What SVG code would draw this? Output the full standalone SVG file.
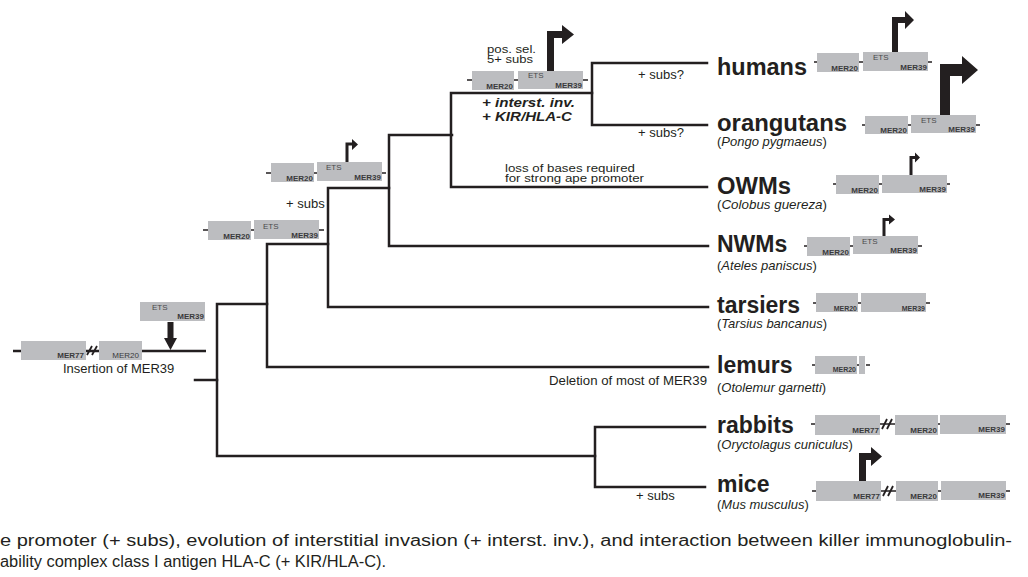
<svg xmlns="http://www.w3.org/2000/svg" width="1028" height="577" viewBox="0 0 1028 577">
<style>
text{font-family:"Liberation Sans",Arial,Helvetica,sans-serif;fill:#231f20}
.tree{fill:none;stroke:#231f20;stroke-width:2.5;stroke-linecap:square}
.tk{stroke:#231f20;stroke-width:1.6;fill:none}
.blk{fill:#bcbdc0}
.m{font-size:8px;font-weight:bold;fill:#3a3a3c;text-anchor:end}
.ms{font-size:7px;font-weight:bold;fill:#3a3a3c;text-anchor:end}
.mn{font-size:8px;fill:#3a3a3c;text-anchor:end}
.ets{font-size:8px;fill:#4a4a4c}
.sp{font-size:23px;font-weight:bold}
.sub{font-size:13px}
.ann{font-size:13px}
.sm{font-size:11.5px}
.bi{font-size:13px;font-weight:bold;font-style:italic}
.arr{fill:#231f20}
.hash{stroke:#231f20;stroke-width:1.8;fill:none}
.cap{font-size:16px;fill:#231f20}
</style>

<g id="connectors">
<path class="tree" d="M195,380 H217"/>
<path class="tree" d="M267,304 H217 V456 H595"/>
<path class="tree" d="M705,427 H595 V487 H705"/>
<path class="tree" d="M328,244 H267 V367 H708"/>
<path class="tree" d="M389,188 H328 V307 H708"/>
<path class="tree" d="M452,135 H389 V246 H708"/>
<path class="tree" d="M592,93 H451 V187 H707"/>
<path class="tree" d="M707,63 H592 V125 H707"/>
</g>

<g id="ancestor">
<path d="M13,351 H206" stroke="#231f20" stroke-width="2.5"/>
<rect class="blk" x="21" y="341" width="65" height="19"/>
<text class="m" x="84" y="358">MER77</text>
<path class="hash" d="M87,355 L92,346 M92,355 L97,346"/>
<rect class="blk" x="99" y="341" width="43" height="19"/>
<text class="mn" x="139" y="358">MER20</text>
<rect class="blk" x="140" y="302" width="65" height="19"/>
<text class="ets" x="152" y="310">ETS</text>
<text class="m" x="204" y="319">MER39</text>
<path class="arr" d="M167.5,322 H173.5 V338 H177 L170.5,350 L164,338 H167.5 Z"/>
<text class="ann" x="63" y="373">Insertion of MER39</text>
</g>

<g id="gene-stem">
<path class="tk" d="M203,230 H208 M251,230 H254 M319,230 H324"/>
<rect class="blk" x="208" y="221" width="43" height="19"/>
<text class="m" x="250" y="238.5">MER20</text>
<rect class="blk" x="254" y="220" width="65" height="19"/>
<text class="ets" x="263" y="228.5">ETS</text>
<text class="m" x="318" y="237.5">MER39</text>
<text class="ann" x="286" y="208">+ subs</text>
</g>

<g id="gene-anthropoid">
<path class="tk" d="M266,173 H271 M314,173 H317 M382,173 H386"/>
<rect class="blk" x="271" y="163" width="43" height="19"/>
<text class="m" x="313" y="180.5">MER20</text>
<rect class="blk" x="317" y="162" width="65" height="19"/>
<text class="ets" x="326" y="170">ETS</text>
<text class="m" x="381" y="179.5">MER39</text>
<path class="arr" d="M345.5,162 V142.5 H352 V139 L358,144.5 L352,150 V145.5 H348.5 V162 Z"/>
</g>

<g id="gene-ape">
<path class="tk" d="M467,80 H472 M514,80 H518 M583,80 H588"/>
<rect class="blk" x="472" y="71" width="42" height="19"/>
<text class="m" x="513" y="88.5">MER20</text>
<rect class="blk" x="518" y="71" width="65" height="18"/>
<text class="ets" x="528" y="78">ETS</text>
<text class="m" x="582" y="87.5">MER39</text>
<path class="arr" d="M547,71 V31 H562 V25 L574,34.5 L562,44 V38 H554 V71 Z"/>
<text class="sm" x="487" y="53" textLength="49" lengthAdjust="spacingAndGlyphs">pos. sel.</text>
<text class="sm" x="487" y="63" textLength="46" lengthAdjust="spacingAndGlyphs">5+ subs</text>
<text class="bi" x="482" y="107" textLength="93" lengthAdjust="spacingAndGlyphs">+ interst. inv.</text>
<text class="bi" x="482" y="121" textLength="90" lengthAdjust="spacingAndGlyphs">+ KIR/HLA-C</text>
</g>

<g id="annotations">
<text class="ann" x="638" y="79">+ subs?</text>
<text class="ann" x="638" y="137">+ subs?</text>
<text class="sm" x="505" y="172" textLength="130" lengthAdjust="spacingAndGlyphs">loss of bases required</text>
<text class="sm" x="505" y="182" textLength="139" lengthAdjust="spacingAndGlyphs">for strong ape promoter</text>
<text class="ann" x="549" y="385" textLength="158" lengthAdjust="spacingAndGlyphs">Deletion of most of MER39</text>
<text class="ann" x="636" y="500">+ subs</text>
</g>

<g id="humans">
<text class="sp" x="717" y="75" textLength="90" lengthAdjust="spacingAndGlyphs">humans</text>
<path class="tk" d="M814,62 H817 M859,62 H863 M928,62 H932"/>
<rect class="blk" x="817" y="53" width="42" height="19"/>
<text class="m" x="858" y="70.5">MER20</text>
<rect class="blk" x="863" y="52" width="65" height="19"/>
<text class="ets" x="873" y="60">ETS</text>
<text class="m" x="927" y="69.5">MER39</text>
<path class="arr" d="M892,52 V17 H905 V11 L914,20 L905,29 V23 H898 V52 Z"/>
</g>

<g id="orangutans">
<text class="sp" x="717" y="131" textLength="130" lengthAdjust="spacingAndGlyphs">orangutans</text>
<text class="sub" x="717" y="146">(<tspan font-style="italic">Pongo pygmaeus</tspan>)</text>
<path class="tk" d="M862,125 H865 M908,125 H911 M976,125 H980"/>
<rect class="blk" x="865" y="116" width="43" height="18"/>
<text class="m" x="907" y="132.5">MER20</text>
<rect class="blk" x="911" y="115" width="65" height="18"/>
<text class="ets" x="921" y="123">ETS</text>
<text class="m" x="975" y="131.5">MER39</text>
<path class="arr" d="M940,115 V64 H962 V56 L978,70 L962,84 V76 H950 V115 Z"/>
</g>

<g id="owms">
<text class="sp" x="717" y="194" textLength="74" lengthAdjust="spacingAndGlyphs">OWMs</text>
<text class="sub" x="717" y="209" textLength="110" lengthAdjust="spacingAndGlyphs">(<tspan font-style="italic">Colobus guereza</tspan>)</text>
<path class="tk" d="M833,184 H836 M879,184 H882 M947,184 H950"/>
<rect class="blk" x="836" y="175" width="43" height="19"/>
<text class="m" x="878" y="192.5">MER20</text>
<rect class="blk" x="882" y="175" width="65" height="18"/>
<text class="m" x="946" y="191.5">MER39</text>
<path class="arr" d="M909.5,175 V156 H915 V152.5 L920,157.5 L915,162.5 V159 H912.5 V175 Z"/>
</g>

<g id="nwms">
<text class="sp" x="717" y="252">NWMs</text>
<text class="sub" x="717" y="270">(<tspan font-style="italic">Ateles paniscus</tspan>)</text>
<path class="tk" d="M804,246 H807 M850,246 H853 M918,246 H922"/>
<rect class="blk" x="807" y="237" width="43" height="19"/>
<text class="m" x="849" y="254.5">MER20</text>
<rect class="blk" x="853" y="236" width="65" height="18"/>
<text class="ets" x="862" y="244">ETS</text>
<text class="m" x="917" y="252.5">MER39</text>
<path class="arr" d="M882.5,236 V218 H889 V214.5 L895,219.5 L889,224.5 V221 H885.5 V236 Z"/>
</g>

<g id="tarsiers">
<text class="sp" x="717" y="313">tarsiers</text>
<text class="sub" x="717" y="328">(<tspan font-style="italic">Tarsius bancanus</tspan>)</text>
<path class="tk" d="M813,303 H816 M858,303 H861 M926,303 H930"/>
<rect class="blk" x="816" y="293" width="42" height="19"/>
<text class="ms" x="857" y="310.5">MER20</text>
<rect class="blk" x="861" y="293" width="65" height="19"/>
<text class="ms" x="925" y="310.5">MER39</text>
</g>

<g id="lemurs">
<text class="sp" x="717" y="373">lemurs</text>
<text class="sub" x="717" y="392">(<tspan font-style="italic">Otolemur garnetti</tspan>)</text>
<path class="tk" d="M812,365 H815 M857,365 H859 M866,365 H870"/>
<rect class="blk" x="815" y="356" width="42" height="18"/>
<text class="ms" x="856" y="372">MER20</text>
<rect class="blk" x="859" y="356" width="6" height="18"/>
</g>

<g id="rabbits">
<text class="sp" x="717" y="433">rabbits</text>
<text class="sub" x="717" y="449">(<tspan font-style="italic">Oryctolagus cuniculus</tspan>)</text>
<path class="tk" d="M811,424 H815 M880,424 H895 M938,424 H940 M1006,424 H1010"/>
<rect class="blk" x="815" y="415" width="65" height="20"/>
<text class="m" x="879" y="433">MER77</text>
<path class="hash" d="M882,429 L887,419 M887,429 L892,419"/>
<rect class="blk" x="895" y="415" width="43" height="20"/>
<text class="m" x="937" y="433">MER20</text>
<rect class="blk" x="940" y="415" width="66" height="19"/>
<text class="m" x="1005" y="432">MER39</text>
</g>

<g id="mice">
<text class="sp" x="717" y="492">mice</text>
<text class="sub" x="717" y="509">(<tspan font-style="italic">Mus musculus</tspan>)</text>
<path class="tk" d="M812,491 H816 M881,491 H896 M938,491 H941 M1006,491 H1010"/>
<rect class="blk" x="816" y="481" width="65" height="20"/>
<text class="m" x="880" y="499">MER77</text>
<path class="hash" d="M883,496 L888,486 M888,496 L893,486"/>
<rect class="blk" x="896" y="481" width="42" height="20"/>
<text class="m" x="937" y="499">MER20</text>
<rect class="blk" x="941" y="481" width="65" height="19"/>
<text class="m" x="1005" y="498">MER39</text>
<path class="arr" d="M859,481 V453 H871 V447 L882,456.5 L871,466 V460 H866 V481 Z"/>
</g>

<g id="caption">
<text class="cap" x="0" y="546" textLength="1012" lengthAdjust="spacingAndGlyphs">e promoter (+ subs), evolution of interstitial invasion (+ interst. inv.), and interaction between killer immunoglobulin-</text>
<text class="cap" x="0" y="567" textLength="386" lengthAdjust="spacingAndGlyphs">ability complex class I antigen HLA-C (+ KIR/HLA-C).</text>
</g>
</svg>
